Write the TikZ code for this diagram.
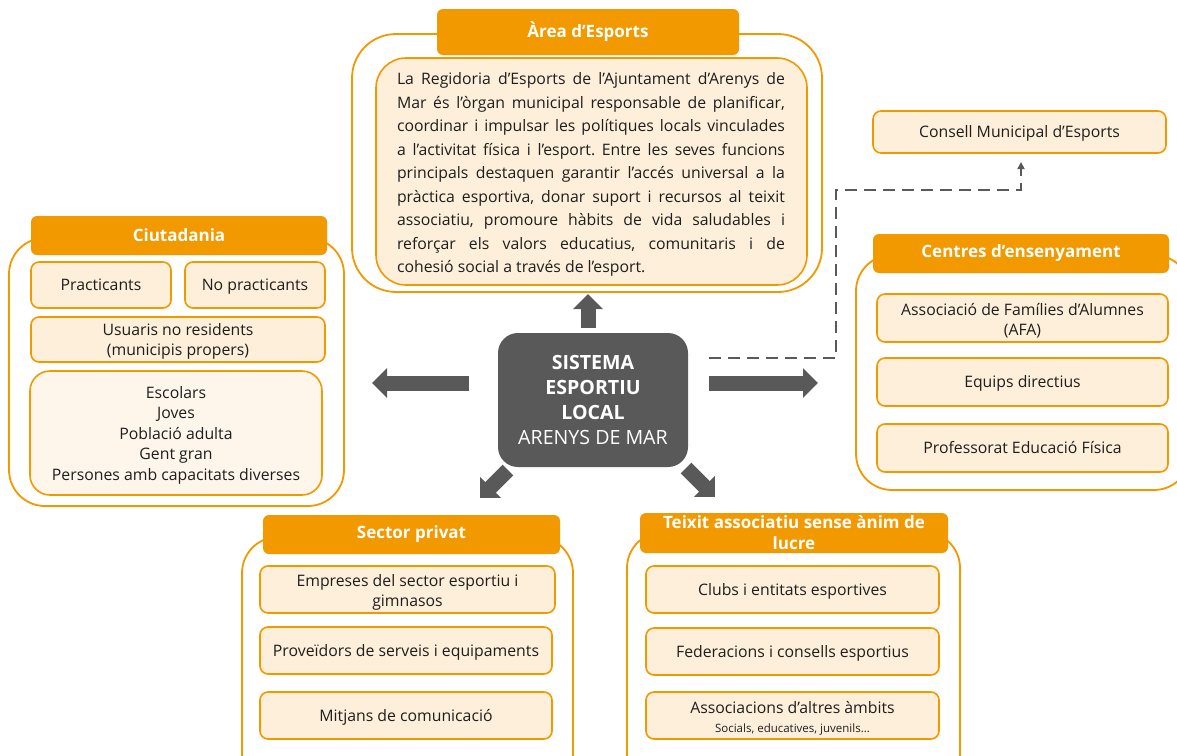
\documentclass[tikz,border=0pt]{standalone}
\usepackage{fontspec}
\setmainfont{Open Sans}
\usetikzlibrary{arrows.meta}
\definecolor{orng}{HTML}{F29900}
\definecolor{pale}{HTML}{FDEFD9}
\definecolor{paler}{HTML}{FEF6EB}
\definecolor{dgray}{HTML}{595959}
\definecolor{txt}{HTML}{1E1E1E}
\newcommand\lowtext[2]{\raisebox{-#1}[\height][\depth]{\begin{tabular}{@{}c@{}}#2\end{tabular}}}
\tikzset{
  outerbox/.style={draw=orng, line width=1.8pt, rounded corners=36pt, fill=white, inner sep=0pt, outer sep=0pt},
  titlebar/.style={fill=orng, rounded corners=6pt, text=white, inner sep=0pt, outer sep=0pt, align=center,
    font=\fontsize{17}{21}\selectfont\bfseries},
  itembox/.style={draw=orng, line width=1.6pt, fill=pale, rounded corners=8pt, inner sep=0pt, outer sep=0pt,
    align=center, text=txt, font=\fontsize{15.8}{20}\selectfont},
  oneline/.style={text height=11.3pt, text depth=0pt},
  blockarrow/.style={line width=15pt, draw=dgray, -{Triangle[width=29pt,length=15pt]}},
  dasharrow/.style={line width=1.6pt, draw=dgray, dash pattern=on 12pt off 7pt, -{Triangle[width=7pt,length=7pt]}},
}
\begin{document}
\begin{tikzpicture}[x=1pt,y=-1pt]
\clip (0,0) rectangle (1177,755);
\fill[white] (0,0) rectangle (1177,755);

% ---------- Àrea d'Esports ----------
\node[outerbox, minimum width=470pt, minimum height=258pt, rounded corners=44pt] (outerA) at (587,163) {};
\node[titlebar, minimum width=302pt, minimum height=46pt] (titleA) at (588,32) {Àrea d’Esports};
\node[draw=orng, line width=1.6pt, fill=pale, rounded corners=30pt, minimum width=431pt, minimum height=227pt,
      inner sep=0pt] (innerA) at (591.5,171.5) {};
\node[text width=388pt, align=justify, inner sep=0pt, text=txt,
      font=\fontsize{15.8}{23.5}\selectfont] (descA) at (591,174.5)
{\frenchspacing\tolerance=10000 \hyphenpenalty=10000 \exhyphenpenalty=10000
La Regidoria d’Esports de l’Ajuntament d’Arenys de\linebreak
Mar és l’òrgan municipal responsable de planificar,\linebreak
coordinar i impulsar les polítiques locals vinculades\linebreak
a l’activitat física i l’esport. Entre les seves funcions\linebreak
principals destaquen garantir l’accés universal a la\linebreak
pràctica esportiva, donar suport i recursos al teixit\linebreak
associatiu, promoure hàbits de vida saludables i\linebreak
reforçar els valors educatius, comunitaris i de\linebreak
cohesió social a través de l’esport.};

% ---------- Ciutadania ----------
\node[outerbox, minimum width=335pt, minimum height=268pt] (outerC) at (176.5,372) {};
\node[titlebar, minimum width=296pt, minimum height=39pt] (titleC) at (179,235.5) {Ciutadania};
\node[itembox, oneline, minimum width=140pt, minimum height=46pt] (prac) at (101,285) {Practicants};
\node[itembox, oneline, minimum width=140pt, minimum height=46pt] (noprac) at (255,285) {No practicants};
\node[itembox, minimum width=294pt, minimum height=45pt] (usu) at (178,339.5)
  {\lowtext{2pt}{Usuaris no residents\\(municipis propers)}};
\node[itembox, fill=paler, rounded corners=20pt, minimum width=292pt, minimum height=124pt,
      font=\fontsize{15.8}{20.5}\selectfont] (grups) at (176,433)
  {\lowtext{2pt}{Escolars\\Joves\\Població adulta\\Gent gran\\Persones amb capacitats diverses}};

% ---------- Consell / Centres ----------
\node[itembox, oneline, minimum width=293pt, minimum height=42pt] (consell) at (1019.5,132) {Consell Municipal d’Esports};
\node[outerbox, minimum width=334pt, minimum height=235pt] (outerE) at (1023,372.5) {};
\node[titlebar, minimum width=296pt, minimum height=39pt] (titleE) at (1021,253.5) {Centres d’ensenyament};
\node[itembox, minimum width=291pt, minimum height=48pt] (afa) at (1022.5,318)
  {\lowtext{3pt}{Associació de Famílies d’Alumnes\\(AFA)}};
\node[itembox, oneline, minimum width=291pt, minimum height=48pt] (equips) at (1022.5,382) {Equips directius};
\node[itembox, oneline, minimum width=291pt, minimum height=48pt] (prof) at (1022.5,448) {Professorat Educació Física};

% ---------- Sector privat ----------
\node[outerbox, minimum width=331pt, minimum height=253pt] (outerS) at (407.5,663.5) {};
\node[titlebar, minimum width=297pt, minimum height=39pt] (titleS) at (411.5,534.5) {Sector privat};
\node[itembox, minimum width=295pt, minimum height=47pt] (emp) at (407.5,589.5)
  {\lowtext{3pt}{Empreses del sector esportiu i\\gimnasos}};
\node[itembox, oneline, minimum width=292pt, minimum height=47pt] (prov) at (406,650.5) {Proveïdors de serveis i equipaments};
\node[itembox, oneline, minimum width=292pt, minimum height=47pt] (mitj) at (406,715.5) {Mitjans de comunicació};

% ---------- Teixit associatiu ----------
\node[outerbox, minimum width=333pt, minimum height=258pt] (outerT) at (793.5,661) {};
\node[titlebar, minimum width=308pt, minimum height=40pt] (titleT) at (794,533) {Teixit associatiu sense ànim de\\lucre};
\node[itembox, oneline, minimum width=293pt, minimum height=47pt] (clubs) at (792.5,589.5) {Clubs i entitats esportives};
\node[itembox, oneline, minimum width=293pt, minimum height=47pt] (fed) at (792.5,651.5) {Federacions i consells esportius};
\node[itembox, minimum width=293pt, minimum height=47pt] (assoc) at (792.5,715.5)
  {\lowtext{3pt}{Associacions d’altres àmbits\\[-1pt]{\fontsize{11.5}{13}\selectfont Socials, educatives, juvenils...}}};

% ---------- Centre ----------
\node[fill=dgray, rounded corners=20pt, minimum width=190pt, minimum height=134pt, inner sep=0pt,
      text=white, align=center, font=\fontsize{19.6}{25.3}\selectfont] (centre) at (593,400)
  {\textbf{SISTEMA}\\\textbf{ESPORTIU}\\\textbf{LOCAL}\\ARENYS DE MAR};

% ---------- Block arrows ----------
\coordinate (upT) at (588,328);   \coordinate (upH) at (588,294);
\coordinate (lfT) at (469,383);   \coordinate (lfH) at (372,383);
\coordinate (rtT) at (709,383);   \coordinate (rtH) at (818,383);
\coordinate (dlT) at (508,470);   \coordinate (dlH) at (480,498);
\coordinate (drT) at (686,468);   \coordinate (drH) at (715,497);
\draw[blockarrow] (upT) -- (upH);
\draw[blockarrow] (lfT) -- (lfH);
\draw[blockarrow] (rtT) -- (rtH);
\draw[blockarrow] (dlT) -- (dlH);
\draw[blockarrow] (drT) -- (drH);

% ---------- Dashed link to Consell ----------
\coordinate (dsA) at (709,358);
\coordinate (dsB) at (1021,162);
\draw[dasharrow] (dsA) -- (836,358) -- (836,190) -- (1021,190) -- (dsB);
\end{tikzpicture}
\end{document}
